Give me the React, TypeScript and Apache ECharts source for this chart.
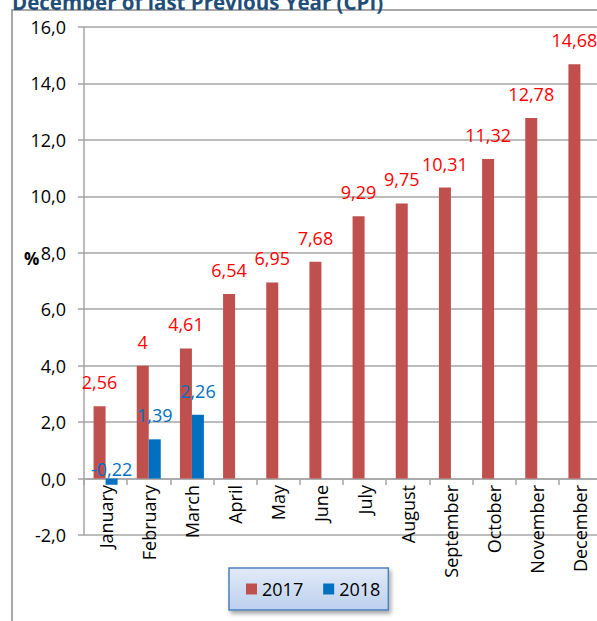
import React, { useEffect, useRef } from "react";
import * as echarts from "echarts";

const months = [
  "January", "February", "March", "April", "May", "June",
  "July", "August", "September", "October", "November", "December",
];
const values2017 = [2.56, 4, 4.61, 6.54, 6.95, 7.68, 9.29, 9.75, 10.31, 11.32, 12.78, 14.68];
const values2018 = [-0.22, 1.39, 2.26];
const seriesNames = ["2017", "2018"];
const titleText = "December of last Previous Year (CPI)";
const yUnit = "%";

const FONT = "'Open Sans', sans-serif";
const comma = (v: number) => String(v).replace(".", ",");

export default function App() {
  const ref = useRef<HTMLDivElement>(null);
  useEffect(() => {
    if (!ref.current) return;
    const chart = echarts.init(ref.current, undefined, { renderer: "svg" });
    const gridColor = "#a6a6a6";
    const gridTop = 27;
    const gridHeight = 508;
    const yMin = -2;
    const yMax = 16;
    const zeroOffset = -Math.round((gridHeight * (0 - yMin)) / (yMax - yMin));
    chart.setOption({
      animation: false,
      backgroundColor: "#ffffff",
      textStyle: { fontFamily: FONT },
      grid: { left: 84, top: gridTop, width: 518, height: gridHeight, outerBoundsMode: "none", containLabel: false },
      graphic: [
        {
          type: "rect",
          z: 0,
          shape: { x: 12, y: 10, width: 640, height: 660 },
          style: { fill: "none", stroke: "#8c8c8c", lineWidth: 1.5 },
        },
        {
          type: "text",
          x: 12,
          y: 2,
          style: {
            text: titleText,
            font: "bold 20.5px " + FONT,
            fill: "#1f4e79",
            verticalAlign: "middle",
          },
        },
        {
          type: "text",
          x: 24,
          y: 258,
          style: {
            text: yUnit,
            font: "bold 17px " + FONT,
            fill: "#000",
            verticalAlign: "middle",
          },
        },
      ],
      legend: {
        data: seriesNames,
        left: 229,
        top: 568,
        icon: "rect",
        itemWidth: 11,
        itemHeight: 11,
        itemGap: 20,
        padding: [12, 8, 12, 17],
        textStyle: { fontSize: 18, color: "#000", fontFamily: FONT },
        backgroundColor: new echarts.graphic.LinearGradient(0, 0, 0, 1, [
          { offset: 0, color: "#e2eaf8" },
          { offset: 1, color: "#bcd0ee" },
        ]),
        borderColor: "#4f81bd",
        borderWidth: 1.5,
        shadowBlur: 4,
        shadowColor: "rgba(0,0,0,0.35)",
        shadowOffsetX: 2,
        shadowOffsetY: 3,
      },
      xAxis: {
        type: "category",
        data: months,
        position: "bottom",
        offset: zeroOffset,
        axisLine: { onZero: false, lineStyle: { color: gridColor, width: 1.5 } },
        axisTick: { show: true, length: 6, lineStyle: { color: gridColor, width: 1.5 } },
        axisLabel: {
          rotate: 90,
          interval: 0,
          fontSize: 18,
          color: "#000",
          fontFamily: FONT,
          margin: 6,
        },
        splitLine: { show: false },
      },
      yAxis: {
        type: "value",
        min: yMin,
        max: yMax,
        interval: 2,
        axisLine: { show: true, lineStyle: { color: gridColor, width: 1.5 } },
        axisTick: { show: true, length: 6, lineStyle: { color: gridColor, width: 1.5 } },
        axisLabel: {
          formatter: (v: number) => v.toFixed(1).replace(".", ","),
          fontSize: 18,
          color: "#000",
          fontFamily: FONT,
          margin: 18,
        },
        splitLine: { show: true, lineStyle: { color: gridColor, width: 1.5 } },
      },
      series: [
        {
          name: seriesNames[0],
          type: "bar",
          data: values2017,
          barWidth: 12,
          barGap: "0%",
          itemStyle: { color: "#c0504d" },
          label: {
            show: true,
            position: "top",
            distance: 15,
            formatter: (p: any) => comma(p.value),
            color: "#ff0000",
            fontSize: 18,
            fontFamily: FONT,
          },
        },
        {
          name: seriesNames[1],
          type: "bar",
          data: values2018.map((v) => (v < 0 ? { value: v, label: { distance: 1 } } : v)),
          barWidth: 12,
          itemStyle: { color: "#0070c0" },
          label: {
            show: true,
            position: "top",
            distance: 15,
            formatter: (p: any) => comma(p.value),
            color: "#0070c0",
            fontSize: 18,
            fontFamily: FONT,
          },
        },
      ],
    });
    return () => chart.dispose();
  }, []);
  return (
    <div style={{ position: "absolute", left: 0, top: 0, width: 597, height: 621, overflow: "hidden", background: "#fff" }}>
      <div ref={ref} style={{ width: 597, height: 621 }} />
    </div>
  );
}
